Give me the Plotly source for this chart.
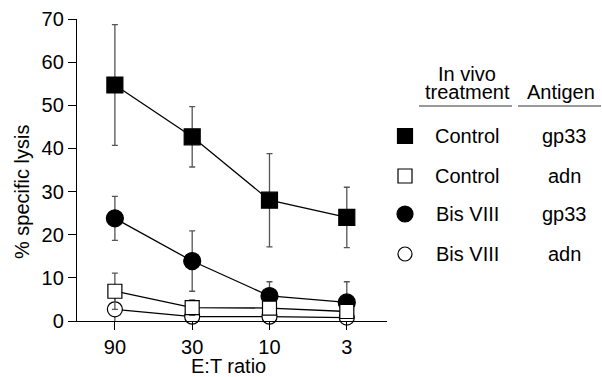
import plotly.graph_objects as go

# ---- data ----
et_ratio = ["90", "30", "10", "3"]

ctrl_gp33 = [54.7, 42.7, 28.0, 24.0]
ctrl_gp33_err = [14.0, 7.0, 10.8, 7.0]

bis_gp33 = [23.8, 13.9, 5.8, 4.3]
bis_gp33_err = [5.1, 7.0, 3.3, 4.8]

ctrl_adn = [6.9, 3.1, 3.0, 2.2]
ctrl_adn_err = [4.2, 1.8, 0.0, 0.0]

bis_adn = [2.7, 1.0, 1.0, 0.8]
bis_adn_err = [4.6, 0.0, 0.0, 0.0]

y_ticks = [0, 10, 20, 30, 40, 50, 60, 70]

FONT = "Helvetica, 'Liberation Sans', Arial, sans-serif"
FS = 20
W, H = 602, 377
L, R, T, B = 77, 387, 19, 321


def px(x):
    return (x - L) / (R - L)


def py(y):
    return (B - y) / (B - T)


def trace(name, yv, err, symbol, fill, size):
    return go.Scatter(
        x=et_ratio, y=yv, name=name, mode="lines+markers",
        line=dict(color="black", width=1.3),
        marker=dict(symbol=symbol, size=size, color=fill,
                    line=dict(color="black", width=1.2)),
        error_y=dict(type="data", array=err, visible=True,
                     color="#555555", thickness=1.3, width=3),
        cliponaxis=False, showlegend=False,
    )


fig = go.Figure()
fig.add_trace(trace("Control gp33", ctrl_gp33, ctrl_gp33_err, "square", "black", 16))
fig.add_trace(trace("Bis VIII gp33", bis_gp33, bis_gp33_err, "circle", "black", 17))
fig.add_trace(trace("Bis VIII adn", bis_adn, bis_adn_err, "circle", "white", 15))
fig.add_trace(trace("Control adn", ctrl_adn, ctrl_adn_err, "square", "white", 14))

fig.update_layout(
    width=W, height=H,
    margin=dict(l=L, r=W - R, t=T, b=H - B, pad=0, autoexpand=False),
    paper_bgcolor="white", plot_bgcolor="white",
    font=dict(family=FONT, size=FS, color="black"),
    showlegend=False,
)
fig.update_xaxes(
    type="category", range=[-0.49, 3.52], automargin=False,
    showline=True, linecolor="black", linewidth=1.3,
    ticks="outside", ticklen=8, tickwidth=1.2, tickcolor="black",
    showgrid=False, zeroline=False,
    tickfont=dict(size=FS),
)
fig.update_yaxes(
    range=[0, 70], tickvals=y_ticks, automargin=False,
    showline=True, linecolor="black", linewidth=1.3,
    ticks="outside", ticklen=8, tickwidth=1.2, tickcolor="black",
    showgrid=False, zeroline=False,
    tickfont=dict(size=FS),
)

# ---- axis titles and legend table ----
ann = []


def text(x, y, s, angle=0, size=FS):
    ann.append(dict(x=px(x), y=py(y), xref="paper", yref="paper", text=s,
                    showarrow=False, xanchor="center", yanchor="middle",
                    textangle=angle,
                    font=dict(size=size, family=FONT, color="black")))


text(228, 366, "E:T ratio")
text(22, 192, "% specific lysis", angle=-90)

text(467, 74, "In vivo")
text(467, 92, "treatment")
text(561, 92, "Antigen")

rows = [("Control", "gp33", 136), ("Control", "adn", 176),
        ("Bis VIII", "gp33", 214), ("Bis VIII", "adn", 254)]
for a, b, y in rows:
    text(467, y, a)
    text(564, y, b)

shapes = [
    dict(type="line", xref="paper", yref="paper", x0=px(419), x1=px(512),
         y0=py(106), y1=py(106), line=dict(color="#777777", width=1.5)),
    dict(type="line", xref="paper", yref="paper", x0=px(518), x1=px(601),
         y0=py(106), y1=py(106), line=dict(color="#777777", width=1.5)),
]
keys = [("rect", "black", 136, 7.5), ("rect", "white", 176, 7),
        ("circle", "black", 214, 8), ("circle", "white", 254, 7)]
for kind, fill, y, r in keys:
    shapes.append(dict(type=kind, xref="paper", yref="paper",
                       x0=px(405 - r), x1=px(405 + r), y0=py(y + r), y1=py(y - r),
                       fillcolor=fill, line=dict(color="black", width=1.2)))

fig.update_layout(annotations=ann, shapes=shapes)
fig.write_html(
    "out.html",
    config={"displayModeBar": False},
    post_script="document.body.style.margin='0';document.body.style.overflow='hidden';",
)
